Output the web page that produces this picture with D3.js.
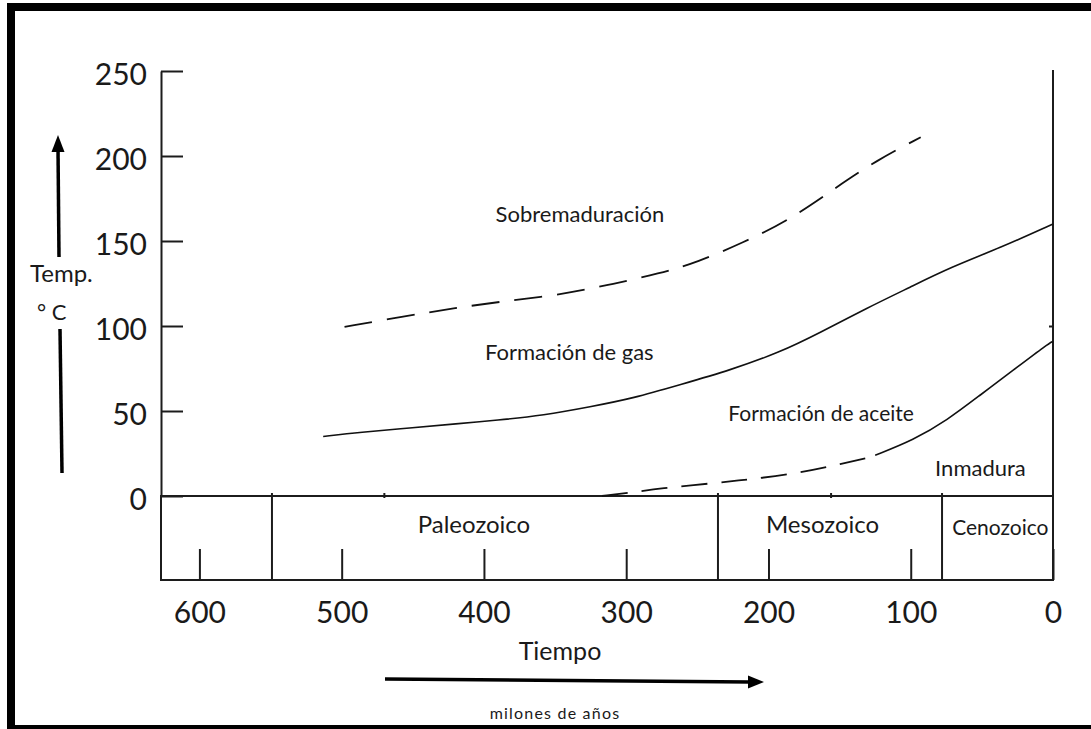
<!DOCTYPE html>
<html>
<head>
<meta charset="utf-8">
<script src="https://cdn.jsdelivr.net/npm/d3@7"></script>
<style>
  html, body { margin: 0; padding: 0; background: #fff; }
  svg { display: block; }
  text { font-family: Lato, "Open Sans", sans-serif; fill: #1a1a1a; }
</style>
</head>
<body>
<svg id="chart" width="1091" height="729"></svg>
<script>
// Tiempo geológico (millones de años antes del presente) y temperatura (°C)
const timeTicks = [600, 500, 400, 300, 200, 100, 0];
const tempTicks = [0, 50, 100, 150, 200, 250];
const minorTimeTicks = [470, 156];

// Eras geológicas: límite inferior de cada una (Ma) y posición de su nombre
const eraNames = ["Paleozoico", "Mesozoico", "Cenozoico"];
const eraStart = [549, 235.5, 78];
const eraLabelTime = [407, 162, 37];

// Límite sobremaduración / formación de gas  [Ma, °C]
const limiteSobremaduracion = [
  [498, 99.5], [457, 105.5], [421, 110.5], [387, 114.5], [349, 118], [313, 124],
  [276, 131], [250, 137.5], [218, 149], [186, 162], [155, 180], [124, 197.5], [93, 211]
];
// Límite formación de gas / formación de aceite
const limiteGasAceite = [
  [513, 35], [487, 37.5], [452, 40], [419, 42.5], [391, 44.5], [358, 47.5],
  [325, 52.5], [295, 57.5], [262, 65.5], [227, 74], [192, 84.5], [164, 96],
  [131, 110.5], [100, 123], [72, 134.5], [37, 146], [0, 160]
];
// Límite formación de aceite / inmaduro: tramo inferido y tramo continuo
const limiteAceiteInferido = [
  [317, 0], [297, 2], [276, 4.5], [239, 7.5], [211, 10], [178, 13.5], [148, 19], [128, 23]
];
const limiteAceiteContinuo = [
  [125, 24], [98, 33], [74.5, 44.5], [51, 59.5], [28, 74], [3.5, 89.5], [0, 91]
];

// Nombres de las zonas y su ubicación [Ma, °C]
const zoneNames = ["Sobremaduración", "Formación de gas", "Formación de aceite", "Inmadura"];
const zoneTime = [332.5, 340, 163, 51];
const zoneTemp = [166, 84.5, 48.5, 16.5];

const svg = d3.select("#chart");
const ink = "#1c1c1c";

// Marco exterior
svg.append("rect")
  .attr("x", 11).attr("y", 7).attr("width", 1095).attr("height", 722)
  .attr("fill", "none").attr("stroke", "#000").attr("stroke-width", 8);

const x = d3.scaleLinear().domain([627, 0]).range([161, 1053]);
const y = d3.scaleLinear().domain([0, 250]).range([496, 71]);
const boxBottom = 580;
const boxTop = y(0);

// Eje de temperatura
const yAxis = svg.append("g")
  .attr("transform", `translate(${x(627)},0)`)
  .call(d3.axisLeft(y).tickValues(tempTicks).tickSize(-22).tickSizeOuter(0).tickPadding(14));
yAxis.select(".domain").attr("stroke", ink).attr("stroke-width", 2);
yAxis.selectAll(".tick line").attr("stroke", ink).attr("stroke-width", 2);
yAxis.selectAll(".tick text")
  .attr("dy", "0.45em")
  .style("font-family", "Lato, sans-serif").style("font-size", "30px").attr("fill", "#1a1a1a");

// Eje derecho (presente) con marca en 100 °C
svg.append("line")
  .attr("x1", x(0)).attr("x2", x(0)).attr("y1", y(250) - 1).attr("y2", boxBottom)
  .attr("stroke", ink).attr("stroke-width", 2);
const rAxis = svg.append("g")
  .attr("transform", `translate(${x(0)},0)`)
  .call(d3.axisRight(y).tickValues([100]).tickSize(-4).tickFormat(""));
rAxis.select(".domain").remove();
rAxis.selectAll(".tick line").attr("stroke", ink).attr("stroke-width", 2);

// Caja de eras
svg.append("rect")
  .attr("x", x(627)).attr("y", boxTop)
  .attr("width", x(0) - x(627)).attr("height", boxBottom - boxTop)
  .attr("fill", "none").attr("stroke", ink).attr("stroke-width", 2);

svg.selectAll("line.era")
  .data(eraStart)
  .join("line")
  .attr("class", "era")
  .attr("x1", d => x(d)).attr("x2", d => x(d))
  .attr("y1", boxTop - 3).attr("y2", boxBottom)
  .attr("stroke", ink).attr("stroke-width", 2);

svg.selectAll("text.era")
  .data(eraNames)
  .join("text")
  .attr("class", "era")
  .attr("x", (d, i) => x(eraLabelTime[i]))
  .attr("y", (d, i) => i === 2 ? 535 : 533)
  .attr("text-anchor", "middle")
  .style("font-size", (d, i) => i === 2 ? "21px" : "24px")
  .text(d => d);

// Marcas menores sobre la línea base
svg.selectAll("line.minor")
  .data(minorTimeTicks)
  .join("line")
  .attr("class", "minor")
  .attr("x1", d => x(d)).attr("x2", d => x(d))
  .attr("y1", boxTop - 3).attr("y2", boxTop + 2)
  .attr("stroke", ink).attr("stroke-width", 2);

// Eje de tiempo
const xAxis = svg.append("g")
  .attr("transform", `translate(0,${boxBottom})`)
  .call(d3.axisBottom(x).tickValues(timeTicks).tickSize(-31).tickSizeOuter(0).tickPadding(22));
xAxis.select(".domain").remove();
xAxis.selectAll(".tick line").attr("stroke", ink).attr("stroke-width", 2);
xAxis.selectAll(".tick text")
  .style("font-family", "Lato, sans-serif").style("font-size", "30px").attr("fill", "#1a1a1a");

// Curvas de madurez
const line = d3.line()
  .x(d => x(d[0])).y(d => y(d[1]))
  .curve(d3.curveBasis);

svg.append("path").datum(limiteSobremaduracion)
  .attr("d", line).attr("fill", "none")
  .attr("stroke", "#111").attr("stroke-width", 1.8).attr("stroke-dasharray", "28,15");

svg.append("path").datum(limiteGasAceite)
  .attr("d", line).attr("fill", "none")
  .attr("stroke", "#111").attr("stroke-width", 1.6);

svg.append("path").datum(limiteAceiteInferido)
  .attr("d", line).attr("fill", "none")
  .attr("stroke", "#111").attr("stroke-width", 1.8).attr("stroke-dasharray", "26,14");

svg.append("path").datum(limiteAceiteContinuo)
  .attr("d", line).attr("fill", "none")
  .attr("stroke", "#111").attr("stroke-width", 1.6);

// Nombres de zonas
svg.selectAll("text.zone")
  .data(zoneNames)
  .join("text")
  .attr("class", "zone")
  .attr("x", (d, i) => x(zoneTime[i]))
  .attr("y", (d, i) => y(zoneTemp[i]))
  .attr("dy", "0.35em")
  .attr("text-anchor", "middle")
  .style("font-size", (d, i) => i === 2 ? "21px" : "22px")
  .text(d => d);

// Título del eje vertical con flecha
svg.append("line")
  .attr("x1", 59).attr("y1", 257).attr("x2", 58).attr("y2", 148)
  .attr("stroke", "#000").attr("stroke-width", 3.5);
svg.append("path")
  .attr("d", "M58,135 L51.5,152 L64.5,152 Z").attr("fill", "#000");
svg.append("line")
  .attr("x1", 60).attr("y1", 329).attr("x2", 62).attr("y2", 473)
  .attr("stroke", "#000").attr("stroke-width", 3.5);
svg.append("text").attr("x", 30).attr("y", 282)
  .style("font-size", "24px").text("Temp.");
svg.append("text").attr("x", 37).attr("y", 320)
  .style("font-size", "22px").text("° C");

// Título del eje horizontal con flecha
svg.append("text").attr("x", 560).attr("y", 660)
  .attr("text-anchor", "middle").style("font-size", "25px").text("Tiempo");
svg.append("line")
  .attr("x1", 385).attr("y1", 679).attr("x2", 750).attr("y2", 682)
  .attr("stroke", "#000").attr("stroke-width", 3.5);
svg.append("path")
  .attr("d", "M764,682 L748,675.5 L748,688.5 Z").attr("fill", "#000");
svg.append("text").attr("x", 555).attr("y", 719)
  .attr("text-anchor", "middle").style("font-size", "16px").style("letter-spacing", "1.2px")
  .text("milones de años");
</script>
</body>
</html>
